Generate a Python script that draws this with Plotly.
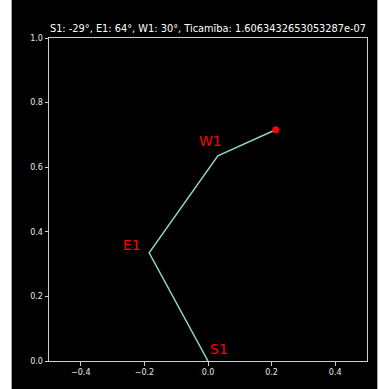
import plotly.graph_objects as go

# joint positions
joint_names = ["S1", "E1", "W1"]
arm_x = [0.0, -0.185, 0.031, 0.213]
arm_y = [0.0, 0.335, 0.635, 0.716]
label_x = [0.035, -0.238, 0.008]
label_y = [0.036, 0.36, 0.68]
title_text = "S1: -29°, E1: 64°, W1: 30°, Ticamība: 1.6063432653053287e-07"
x_ticks = [-0.4, -0.2, 0.0, 0.2, 0.4]
y_ticks = [0.0, 0.2, 0.4, 0.6, 0.8, 1.0]

fig = go.Figure()
fig.add_trace(go.Scatter(x=arm_x, y=arm_y, mode="lines",
                         line=dict(color="#8dd3c7", width=1.5),
                         hoverinfo="skip", showlegend=False))
fig.add_trace(go.Scatter(x=[arm_x[-1]], y=[arm_y[-1]], mode="markers",
                         marker=dict(color="red", size=7),
                         hoverinfo="skip", showlegend=False))

for name, lx, ly in zip(joint_names, label_x, label_y):
    fig.add_annotation(x=lx, y=ly, text=name, showarrow=False,
                       font=dict(color="red", size=14, family="DejaVu Sans"),
                       xanchor="center", yanchor="middle")

fig.add_shape(type="rect", xref="paper", yref="paper",
              x0=-0.1175, x1=1.0325, y0=-0.2, y1=1.2,
              fillcolor="black", line=dict(width=0), layer="below")

axis_common = dict(showgrid=False, zeroline=False, showline=True, mirror=True,
                   linecolor="#d0d0d0", linewidth=1, ticks="outside", ticklen=3.5,
                   tickcolor="#d0d0d0", tickwidth=1,
                   tickfont=dict(color="#e8e8e8", size=8, family="DejaVu Sans"))

fig.update_xaxes(range=[-0.5, 0.5], tickvals=x_ticks, tickformat=".1f", **axis_common)
fig.update_yaxes(range=[0.0, 1.0], tickvals=y_ticks, tickformat=".1f", **axis_common)

fig.update_layout(
    width=381, height=389,
    margin=dict(l=49, r=14, t=38, b=26, pad=0),
    paper_bgcolor="white", plot_bgcolor="black",
    title=dict(text=title_text, x=0.5, xref="paper", xanchor="center",
               y=1 - 29 / 389, yanchor="middle",
               font=dict(color="white", size=9.8, family="DejaVu Sans")),
)

fig.write_html("out.html")
